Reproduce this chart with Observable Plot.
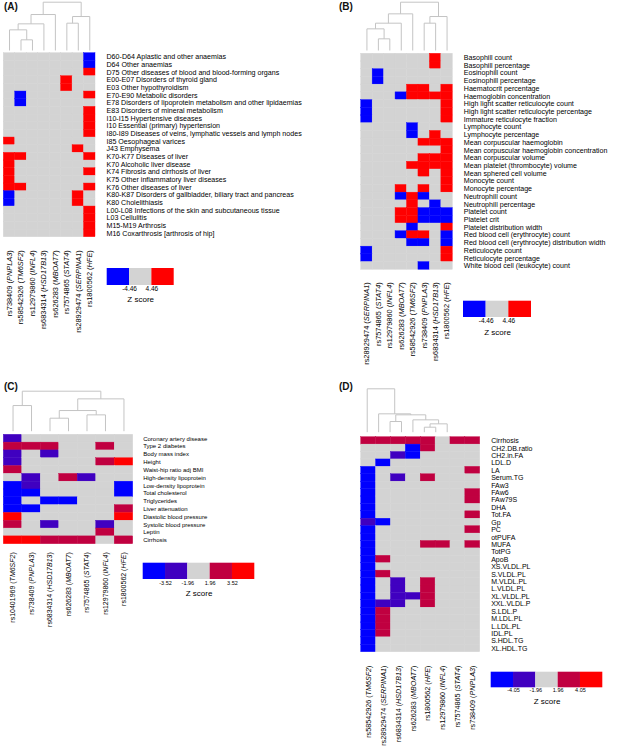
<!DOCTYPE html>
<html>
<head>
<meta charset="utf-8">
<script src="https://cdn.jsdelivr.net/npm/d3@7"></script>
<script src="https://cdn.jsdelivr.net/npm/@observablehq/plot@0.6"></script>
<style>
  html, body { margin: 0; padding: 0; background: #fff; }
  #root { position: relative; width: 618px; height: 750px; overflow: hidden; font-family: 'Liberation Sans', Arial, Helvetica, sans-serif; }
  .ptitle { position: absolute; font: bold 10px 'Liberation Sans', Arial, sans-serif; line-height: 10px; color: #111; }
</style>
</head>
<body>
<div id="root"></div>
<script>
// ---------------- DATA ----------------
// Z-score estimates read from colour classes (blue / purple / grey / crimson / red)

// Panel A: UK Biobank ICD-10 diagnoses
const colsA = ["rs738409 (PNPLA3)", "rs58542926 (TM6SF2)", "rs12979860 (INFL4)", "rs6834314 (HSD17B13)",
  "rs626283 (MBOAT7)", "rs7574865 (STAT4)", "rs28929474 (SERPINA1)", "rs1800562 (HFE)"];
const rowsA = ["D60-D64 Aplastic and other anaemias", "D64 Other anaemias",
  "D75 Other diseases of blood and blood-forming organs", "E00-E07 Disorders of thyroid gland",
  "E03 Other hypothyroidism", "E70-E90 Metabolic disorders",
  "E78 Disorders of lipoprotein metabolism and other lipidaemias", "E83 Disorders of mineral metabolism",
  "I10-I15 Hypertensive diseases", "I10 Essential (primary) hypertension",
  "I80-I89 Diseases of veins, lymphatic vessels and lymph nodes", "I85 Oesophageal varices",
  "J43 Emphysema", "K70-K77 Diseases of liver", "K70 Alcoholic liver disease",
  "K74 Fibrosis and cirrhosis of liver", "K75 Other inflammatory liver diseases",
  "K76 Other diseases of liver", "K80-K87 Disorders of gallbladder, biliary tract and pancreas",
  "K80 Cholelithiasis", "L00-L08 Infections of the skin and subcutaneous tissue", "L03 Cellulitis",
  "M15-M19 Arthrosis", "M16 Coxarthrosis [arthrosis of hip]"];
const zA = [
  [0,0,0,0,0,0,0,-5],
  [0,0,0,0,0,0,0,-5],
  [0,0,0,0,0,0,0,5],
  [0,0,0,0,0,5,0,0],
  [0,0,0,0,0,5,0,0],
  [0,-5,0,0,0,0,0,5],
  [0,-5,0,0,0,0,0,0],
  [0,0,0,0,0,0,0,5],
  [0,0,0,0,0,0,0,5],
  [0,0,0,0,0,0,0,5],
  [0,0,0,0,0,0,0,5],
  [5,0,0,0,0,0,0,0],
  [0,0,0,0,0,0,5,0],
  [5,5,0,0,0,0,0,5],
  [5,0,0,0,0,0,0,0],
  [5,0,0,0,0,0,0,5],
  [5,0,0,0,0,0,0,0],
  [5,5,0,0,0,0,0,5],
  [-5,0,0,0,0,0,5,0],
  [-5,0,0,0,0,0,5,0],
  [0,0,0,0,0,0,0,5],
  [0,0,0,0,0,0,0,5],
  [0,0,0,0,0,0,0,5],
  [0,0,0,0,0,0,0,5]];
const thrA = [-4.46, 4.46];
const legLabelsA = ["-4.46", "4.46"];
// dendrogram merges: [left, right, height]; negative = leaf (1-based), positive = earlier merge
const treeA = [[-2,-3,32],[-1,1,62],[2,-4,80],[3,-5,108],[-6,-7,82],[5,-8,102],[4,6,145]];

// Panel B: blood cell traits
const colsB = ["rs28929474 (SERPINA1)", "rs7574865 (STAT4)", "rs12979860 (INFL4)", "rs626283 (MBOAT7)",
  "rs58542926 (TM6SF2)", "rs738409 (PNPLA3)", "rs6834314 (HSD17B13)", "rs1800562 (HFE)"];
const rowsB = ["Basophill count", "Basophill percentage", "Eosinophill count", "Eosinophill percentage",
  "Haematocrit percentage", "Haemoglobin concentration", "High light scatter reticulocyte count",
  "High light scatter reticulocyte percentage", "Immature reticulocyte fraction", "Lymphocyte count",
  "Lymphocyte percentage", "Mean corpuscular haemoglobin", "Mean corpuscular haemoglobin concentration",
  "Mean corpuscular volume", "Mean platelet (thrombocyte) volume", "Mean sphered cell volume",
  "Monocyte count", "Monocyte percentage", "Neutrophill count", "Neutrophill percentage",
  "Platelet count", "Platelet crit", "Platelet distribution width", "Red blood cell (erythrocyte) count",
  "Red blood cell (erythrocyte) distribution width", "Reticulocyte count", "Reticulocyte percentage",
  "White blood cell (leukocyte) count"];
const zB = [
  [0,0,0,0,0,0,5,0],
  [0,0,0,0,0,0,5,0],
  [0,-5,0,0,0,0,0,0],
  [0,-5,0,0,0,0,0,0],
  [0,0,0,0,5,5,0,5],
  [0,0,0,-5,5,5,5,5],
  [-5,0,0,0,0,0,0,5],
  [-5,0,0,0,0,0,0,5],
  [-5,0,0,0,0,0,0,5],
  [0,0,0,0,-5,0,0,0],
  [0,0,0,0,-5,0,5,0],
  [0,0,0,0,0,5,5,5],
  [0,0,0,0,0,0,0,5],
  [0,0,0,0,0,5,5,5],
  [0,0,0,0,5,5,5,5],
  [0,0,0,0,0,5,0,5],
  [0,0,0,0,0,0,0,5],
  [0,0,0,5,0,5,0,5],
  [0,0,0,-5,5,-5,0,0],
  [0,0,0,0,5,0,-5,0],
  [0,0,0,5,5,-5,-5,-5],
  [0,0,0,5,5,-5,-5,-5],
  [0,0,0,0,-5,0,0,5],
  [0,0,0,-5,5,5,0,-5],
  [0,0,0,0,-5,-5,0,-5],
  [-5,0,0,0,0,0,0,5],
  [-5,0,0,0,0,0,0,5],
  [0,0,0,0,0,-5,0,0]];
const thrB = [-4.46, 4.46];
const legLabelsB = ["-4.46", "4.46"];
const treeB = [[-2,-3,35],[-1,1,65],[2,-4,82],[3,-5,110],[-6,-7,82],[5,-8,102],[4,6,145]];

// Panel C: GWAS consortia traits
const colsC = ["rs10401969 (TM6SF2)", "rs738409 (PNPLA3)", "rs6834314 (HSD17B13)", "rs626283 (MBOAT7)",
  "rs7574865 (STAT4)", "rs12979860 (INFL4)", "rs1800562 (HFE)"];
const rowsC = ["Coronary artery disease", "Type 2 diabetes", "Body mass index", "Height",
  "Waist-hip ratio adj BMI", "High-density lipoprotein", "Low-density lipoprotein", "Total cholesterol",
  "Triglycerides", "Liver attenuation", "Diastolic blood pressure", "Systolic blood pressure", "Leptin",
  "Cirrhosis"];
const zC = [
  [-2.7,0,0,0,0,0,0],
  [2.7,2.7,2.7,0,0,2.7,0],
  [-2.7,0,-2.7,0,0,0,0],
  [-2.7,0,0,0,0,2.7,5],
  [2.7,0,0,0,0,0,0],
  [0,-2.7,0,2.7,-2.7,0,0],
  [-5,-2.7,0,0,0,0,-5],
  [-5,-5,0,0,0,0,-5],
  [-5,0,-5,-5,0,0,0],
  [-5,-5,0,0,0,0,2.7],
  [5,0,0,0,0,0,5],
  [2.7,0,-2.7,0,0,-2.7,0],
  [0,0,0,0,0,2.7,0],
  [5,5,2.7,2.7,2.7,0,2.7]];
const thrC = [-3.52, -1.96, 1.96, 3.52];
const legLabelsC = ["-3.52", "-1.96", "1.96", "3.52"];
const treeC = [[-3,-4,39],[-5,-6,49],[1,2,62],[3,-7,97],[-1,-2,77],[5,4,120]];

// Panel D: NMR metabolites
const colsD = ["rs58542926 (TM6SF2)", "rs28929474 (SERPINA1)", "rs6834314 (HSD17B13)", "rs626283 (MBOAT7)",
  "rs1800562 (HFE)", "rs12979860 (INFL4)", "rs7574865 (STAT4)", "rs738409 (PNPLA3)"];
const rowsD = ["Cirrhosis", "CH2.DB.ratio", "CH2.in.FA", "LDL.D", "LA", "Serum.TG", "FAw3", "FAw6", "FAw79S",
  "DHA", "Tot.FA", "Gp", "PC", "otPUFA", "MUFA", "TotPG", "ApoB", "XS.VLDL.PL", "S.VLDL.PL", "M.VLDL.PL",
  "L.VLDL.PL", "XL.VLDL.PL", "XXL.VLDL.P", "S.LDL.P", "M.LDL.PL", "L.LDL.PL", "IDL.PL", "S.HDL.TG",
  "XL.HDL.TG"];
const zD = [
  [3,3,3,3,3,0,3,3],
  [0,0,0,-5,3,0,0,0],
  [0,0,-3,-5,0,0,0,0],
  [0,-5,0,0,0,0,0,0],
  [-5,0,0,0,0,0,0,3],
  [-5,0,-3,0,3,0,0,0],
  [-5,0,0,0,0,0,0,0],
  [-5,0,0,0,0,0,0,3],
  [-5,0,0,0,0,0,0,3],
  [-5,0,0,0,0,0,0,0],
  [-5,0,0,0,0,0,0,3],
  [-3,-5,0,0,0,0,0,0],
  [-5,0,0,0,0,0,0,3],
  [-5,0,0,0,0,0,0,0],
  [-5,0,0,0,3,3,0,3],
  [-5,0,0,0,0,0,0,0],
  [-5,3,0,0,0,0,0,0],
  [-5,0,0,0,0,0,0,0],
  [-5,3,0,0,0,0,0,0],
  [-5,0,-3,0,3,0,0,0],
  [-5,0,-3,0,3,0,0,0],
  [-5,0,-3,-3,3,0,0,0],
  [-5,-3,-3,0,3,0,0,0],
  [-5,3,0,0,0,0,0,0],
  [-5,3,0,0,0,0,0,0],
  [-5,3,0,0,0,0,0,0],
  [-5,3,0,0,0,0,0,0],
  [-5,0,0,0,0,0,0,0],
  [-5,0,0,0,0,0,0,0]];
const thrD = [-4.05, -1.96, 1.96, 4.05];
const legLabelsD = ["-4.05", "-1.96", "1.96", "4.05"];
const treeD = [[-3,-4,32],[-6,-7,15],[2,-8,25],[-5,3,37],[1,4,52],[-2,5,55],[-1,6,130]];

const colors3 = ["#0000FF", "#D3D3D3", "#FF0000"];
const colors5 = ["#0000FF", "#4000C0", "#D3D3D3", "#C00040", "#FF0000"];

// ---------------- RENDERING ----------------
const W = 618, H = 750;
const FONT = "'Liberation Sans', Arial, Helvetica, sans-serif";
const root = document.getElementById("root");

function framed([x0, x1, y0, y1]) {
  return {width: W, height: H, marginLeft: x0, marginRight: W - x1, marginTop: y0, marginBottom: H - y1};
}
function place(svg) {
  svg.style.position = "absolute";
  svg.style.left = "0px";
  svg.style.top = "0px";
  svg.style.background = "transparent";
  svg.style.overflow = "visible";
  svg.style.maxWidth = "none";
  root.appendChild(svg);
}
function italicize(svg) {
  d3.select(svg).selectAll("text").each(function () {
    const t = this.textContent;
    const m = t.match(/^(rs\d+ \()(.+)(\))$/);
    if (!m || this.querySelector("tspan")) return;
    const s = d3.select(this);
    s.text(null);
    s.append("tspan").text(m[1]);
    s.append("tspan").attr("font-style", "italic").text(m[2]);
    s.append("tspan").text(m[3]);
  });
}

function heatmap({cols, rows, values, thresholds, colors, box, rowPad, colPad, rowFont, colFont}) {
  const data = rows.flatMap((r, i) => cols.map((c, j) => ({row: r, col: c, z: values[i][j]})));
  const svg = Plot.plot({
    ...framed(box),
    style: {fontFamily: FONT, fontSize: rowFont + "px", color: "#000", background: "transparent", overflow: "visible"},
    x: {type: "band", domain: cols, padding: 0, round: false},
    y: {type: "band", domain: rows, padding: 0, round: false},
    color: {type: "threshold", domain: thresholds, range: colors},
    marks: [
      Plot.cell(data, {x: "col", y: "row", fill: "z", stroke: "z", strokeWidth: 0.4}),
      Plot.axisX({anchor: "bottom", tickRotate: -90, tickSize: 0, tickPadding: colPad, label: null, fontSize: colFont, fill: "#000"}),
      Plot.axisY({anchor: "right", tickSize: 0, tickPadding: rowPad, label: null, fontSize: rowFont, fill: "#000"})
    ]
  });
  italicize(svg);
  place(svg);
}

function dendrogram(tree, n, box) {
  const nodes = [];
  const segs = [];
  const pos = (ref) => ref < 0 ? {x: -ref - 1 + 0.5, h: 0} : nodes[ref - 1];
  for (const [a, b, h] of tree) {
    const A = pos(a), B = pos(b);
    segs.push({x1: A.x, y1: A.h, x2: A.x, y2: h});
    segs.push({x1: B.x, y1: B.h, x2: B.x, y2: h});
    segs.push({x1: A.x, y1: h, x2: B.x, y2: h});
    nodes.push({x: (A.x + B.x) / 2, h});
  }
  const maxH = d3.max(tree, d => d[2]);
  const svg = Plot.plot({
    ...framed(box),
    style: {background: "transparent", overflow: "visible"},
    x: {domain: [0, n], axis: null},
    y: {domain: [0, maxH], axis: null},
    marks: [
      Plot.link(segs, {x1: "x1", y1: "y1", x2: "x2", y2: "y2", stroke: "#c4c4c4", strokeWidth: 1})
    ]
  });
  place(svg);
}

function legend({thresholds, colors, labels, box, labelDy, titleDy, labelFont}) {
  const k = colors.length;
  const bins = colors.map((c, i) => ({
    i,
    z: i === 0 ? thresholds[0] - 1 : i === k - 1 ? thresholds[thresholds.length - 1] + 1 : (thresholds[i - 1] + thresholds[i]) / 2
  }));
  const svg = Plot.plot({
    ...framed(box),
    style: {fontFamily: FONT, color: "#000", background: "transparent", overflow: "visible"},
    x: {domain: [0, k], axis: null},
    color: {type: "threshold", domain: thresholds, range: colors},
    marks: [
      Plot.rect(bins, {x1: "i", x2: d => d.i + 1, fill: "z"}),
      Plot.text(labels, {x: (d, i) => i + 1, text: d => d, frameAnchor: "bottom", dy: labelDy, fontSize: labelFont, fill: "#000"}),
      Plot.text(["Z score"], {x: () => k / 2, text: d => d, frameAnchor: "bottom", dy: titleDy, fontSize: 8, fill: "#000"})
    ]
  });
  place(svg);
}

function title(txt, left, top) {
  const d = document.createElement("div");
  d.className = "ptitle";
  d.textContent = txt;
  d.style.left = left + "px";
  d.style.top = top + "px";
  root.appendChild(d);
}

// Panel A
dendrogram(treeA, colsA.length, [3.3, 95, 1.7, 50]);
heatmap({cols: colsA, rows: rowsA, values: zA, thresholds: thrA, colors: colors3,
  box: [3.3, 95, 52.7, 236.7], rowPad: 11, colPad: 13, rowFont: 7.1, colFont: 7.4});
legend({thresholds: thrA, colors: colors3, labels: legLabelsA, box: [106.7, 173.7, 268, 285],
  labelDy: 5.5, titleDy: 16, labelFont: 6.5});
title("(A)", 4, 2);

// Panel B
dendrogram(treeB, colsB.length, [360.7, 452.3, 1.7, 50]);
heatmap({cols: colsB, rows: rowsB, values: zB, thresholds: thrB, colors: colors3,
  box: [360.7, 452.3, 53.3, 269.3], rowPad: 11, colPad: 12.4, rowFont: 7.1, colFont: 7.4});
legend({thresholds: thrB, colors: colors3, labels: legLabelsB, box: [463, 531, 300.7, 317],
  labelDy: 5.7, titleDy: 17, labelFont: 6.5});
title("(B)", 339, 2);

// Panel C
dendrogram(treeC, colsC.length, [3.3, 132.7, 390.7, 430.7]);
heatmap({cols: colsC, rows: rowsC, values: zC, thresholds: thrC, colors: colors5,
  box: [3.3, 132.7, 434.3, 543.7], rowPad: 10, colPad: 8, rowFont: 6, colFont: 7});
legend({thresholds: thrC, colors: colors5, labels: legLabelsC, box: [142.7, 254.3, 562.7, 579],
  labelDy: 5, titleDy: 16, labelFont: 5.5});
title("(C)", 4, 382);

// Panel D
dendrogram(treeD, colsD.length, [361, 452.4, 388.3, 431.7]);
heatmap({cols: colsD, rows: rowsD, values: zD, thresholds: thrD, colors: colors5,
  box: [360.7, 479.7, 436.7, 651.7], rowPad: 11, colPad: 13.3, rowFont: 7, colFont: 7.2});
legend({thresholds: thrD, colors: colors5, labels: legLabelsD, box: [490.7, 602.3, 671.7, 687.3],
  labelDy: 4.5, titleDy: 16.5, labelFont: 5.5});
title("(D)", 339, 382);
</script>
</body>
</html>
